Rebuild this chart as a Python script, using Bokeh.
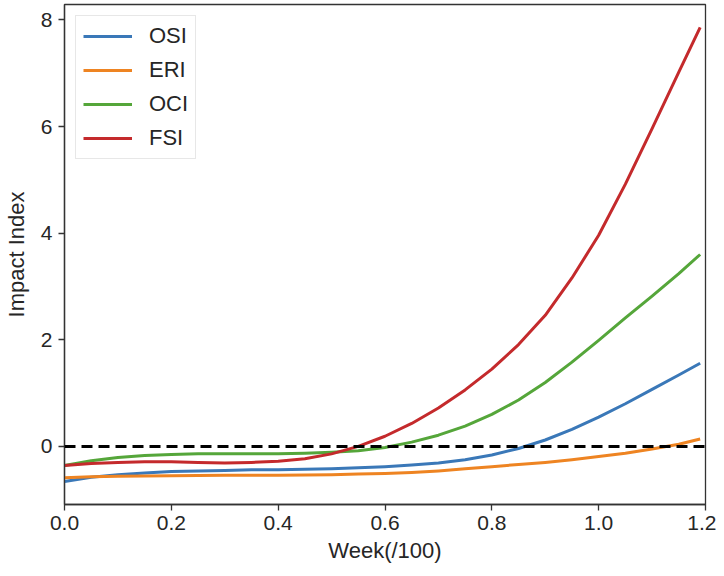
from bokeh.plotting import figure
from bokeh.models import Range1d, Span, Legend, LegendItem, FixedTicker, PrintfTickFormatter
from bokeh.embed import file_html
from bokeh.resources import INLINE

# ---- data ----
week = [0.00, 0.05, 0.10, 0.15, 0.20, 0.25, 0.30, 0.35, 0.40, 0.45, 0.50, 0.55,
        0.60, 0.65, 0.70, 0.75, 0.80, 0.85, 0.90, 0.95, 1.00, 1.05, 1.10, 1.15, 1.19]

osi = [-0.66, -0.58, -0.53, -0.50, -0.47, -0.46, -0.45, -0.44, -0.44, -0.43, -0.42, -0.40,
       -0.38, -0.35, -0.31, -0.25, -0.16, -0.04, 0.12, 0.32, 0.55, 0.80, 1.07, 1.34, 1.56]
eri = [-0.59, -0.57, -0.56, -0.555, -0.55, -0.545, -0.54, -0.54, -0.54, -0.535, -0.53, -0.52,
       -0.51, -0.49, -0.46, -0.42, -0.38, -0.34, -0.30, -0.25, -0.19, -0.13, -0.05, 0.04, 0.14]
oci = [-0.36, -0.27, -0.21, -0.17, -0.15, -0.14, -0.14, -0.14, -0.14, -0.13, -0.11, -0.08,
       -0.02, 0.08, 0.21, 0.38, 0.60, 0.87, 1.20, 1.58, 1.99, 2.41, 2.82, 3.24, 3.60]
fsi = [-0.36, -0.32, -0.30, -0.29, -0.29, -0.30, -0.31, -0.30, -0.28, -0.23, -0.14, 0.00,
       0.19, 0.43, 0.72, 1.06, 1.45, 1.91, 2.46, 3.16, 3.96, 4.92, 5.96, 7.02, 7.86]

series_names = ["OSI", "ERI", "OCI", "FSI"]
series_values = [osi, eri, oci, fsi]
series_colors = ["#3a78b8", "#ee8422", "#55a63a", "#c42a2c"]

x_ticks = [0.0, 0.2, 0.4, 0.6, 0.8, 1.0, 1.2]
y_ticks = [0, 2, 4, 6, 8]

FONT = "Liberation Sans"
TXT = "#262626"
SPINE = "#333333"

p = figure(width=716, height=568, output_backend="svg", toolbar_location=None,
           x_range=Range1d(0, 1.2), y_range=Range1d(-1.09, 8.29),
           min_border_left=63, min_border_right=11, min_border_top=4, min_border_bottom=64)

p.xgrid.visible = False
p.ygrid.visible = False
p.outline_line_color = SPINE
p.outline_line_width = 1.3
p.background_fill_color = "white"
p.border_fill_color = "white"

for ax in (p.xaxis[0], p.yaxis[0]):
    ax.axis_line_color = SPINE
    ax.axis_line_width = 1.3
    ax.major_tick_line_color = SPINE
    ax.major_tick_line_width = 1.3
    ax.major_tick_out = 6
    ax.major_tick_in = 0
    ax.minor_tick_out = 0
    ax.minor_tick_in = 0
    ax.major_label_text_font = FONT
    ax.major_label_text_font_size = "21px"
    ax.major_label_text_color = TXT
    ax.axis_label_text_font = FONT
    ax.axis_label_text_font_size = "22px"
    ax.axis_label_text_color = TXT
    ax.axis_label_text_font_style = "normal"

p.xaxis.ticker = FixedTicker(ticks=x_ticks)
p.xaxis.formatter = PrintfTickFormatter(format="%.1f")
p.yaxis.ticker = FixedTicker(ticks=y_ticks)
p.xaxis.axis_label = "Week(/100)"
p.yaxis.axis_label = "Impact Index"
p.xaxis.major_label_standoff = 5
p.yaxis.major_label_standoff = 6
p.xaxis.axis_label_standoff = 5
p.yaxis.axis_label_standoff = 9

zero = Span(location=0, dimension="width", line_color="black", line_width=3, line_dash="11 6")
p.add_layout(zero)

items = []
for name, vals, col in zip(series_names, series_values, series_colors):
    r = p.line(week, vals, line_color=col, line_width=3, line_join="round")
    items.append(LegendItem(label=name, renderers=[r]))

legend = Legend(items=items, location="top_left")
legend.label_text_font = FONT
legend.label_text_font_size = "22px"
legend.label_text_color = TXT
legend.glyph_width = 49
legend.glyph_height = 20
legend.label_height = 20
legend.label_standoff = 17
legend.spacing = 8
legend.padding = 7
legend.margin = 11
legend.border_line_color = "#d0d0d0"
legend.border_line_width = 1.3
legend.background_fill_color = "white"
legend.background_fill_alpha = 0.85
p.add_layout(legend)

open("out.html", "w").write(file_html(p, INLINE))
